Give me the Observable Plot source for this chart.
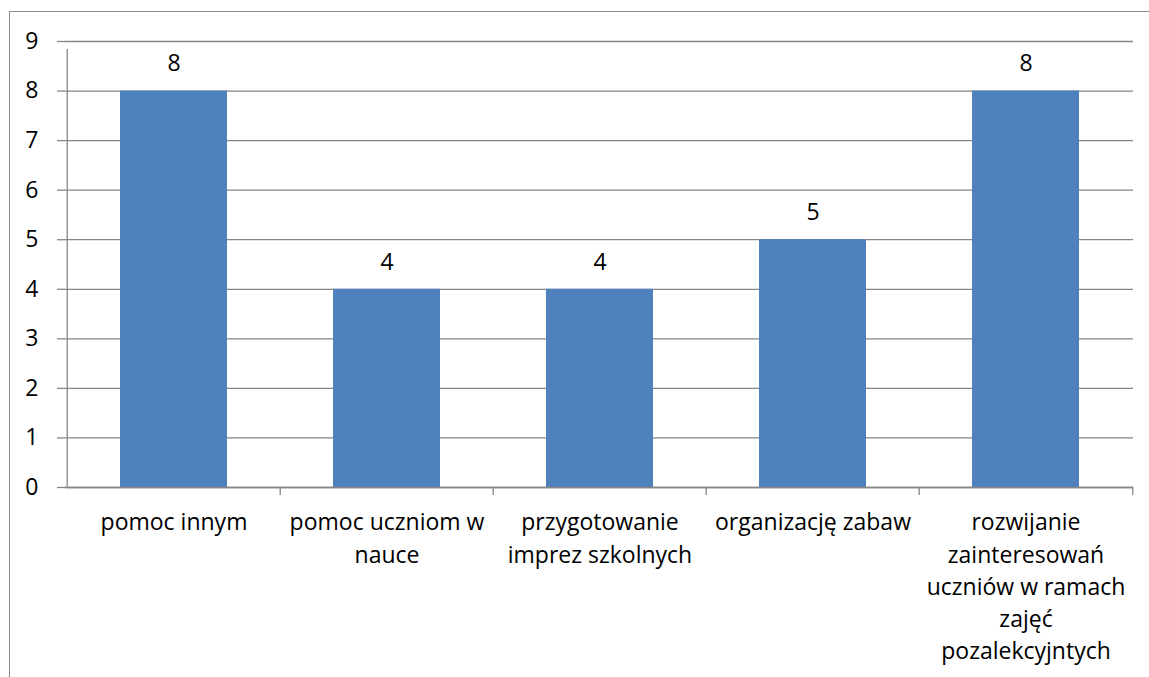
<!DOCTYPE html>
<html>
<head>
<meta charset="utf-8">
<script src="https://cdn.jsdelivr.net/npm/d3@7"></script>
<script src="https://cdn.jsdelivr.net/npm/@observablehq/plot@0.6"></script>
<style>
  html, body { margin: 0; padding: 0; background: #fff; overflow: hidden; }
  #wrap { position: relative; width: 1149px; height: 677px; }
  #frame { position: absolute; left: 9px; top: 11px; width: 1200px; height: 700px; border: 1px solid #8c8c8c; box-sizing: border-box; pointer-events: none; }
  #chart { position: absolute; left: 0; top: 0; }
</style>
</head>
<body>
<div id="wrap"><div id="frame"></div><div id="chart"></div></div>
<script>
const categories = [
  "pomoc innym",
  "pomoc uczniom w\nnauce",
  "przygotowanie\nimprez szkolnych",
  "organizację zabaw",
  "rozwijanie\nzainteresowań\nuczniów w ramach\nzajęć\npozalekcyjntych"
];
const values = [8, 4, 4, 5, 8];
const yTicks = [0, 1, 2, 3, 4, 5, 6, 7, 8, 9];

const data = categories.map((c, i) => ({category: c, value: values[i]}));
const W = 1149, H = 677, mL = 65, mR = 16;
const half = (W - mL - mR) / categories.length / 2;
const grey = "#868686";

const plot = Plot.plot({
  width: W,
  height: H,
  marginLeft: mL,
  marginRight: mR,
  marginTop: 41,
  marginBottom: 190,
  style: {fontFamily: "'Open Sans', sans-serif", fontSize: "23px", color: "#000", background: "transparent"},
  x: {domain: categories, paddingInner: 0.5, paddingOuter: 0.25, axis: null},
  y: {domain: [0, 9], ticks: yTicks, axis: null},
  marks: [
    Plot.gridY(yTicks, {stroke: grey, strokeOpacity: 1, strokeWidth: 1.3}),
    Plot.axisY(yTicks, {tickSize: 8, tickPadding: 19, stroke: grey, strokeWidth: 1.3, fill: "#000", fontSize: 23, label: null, tickFormat: d => String(d)}),
    Plot.barY(data, {x: "category", y: "value", fill: "#4F81BD"}),
    Plot.ruleX(categories, {x: d => d, dx: -half, y1: 0, y2: 9, insetBottom: -8, stroke: grey, strokeWidth: 1.3, filter: (d, i) => i === 0}),
    Plot.ruleX(categories, {x: d => d, dx: -half, y1: 0, y2: 0, insetBottom: -8, stroke: grey, strokeWidth: 1.3, filter: (d, i) => i > 0}),
    Plot.ruleX(categories.slice(-1), {x: d => d, dx: half, y1: 0, y2: 0, insetBottom: -8, stroke: grey, strokeWidth: 1.3}),
    Plot.ruleY([0], {stroke: grey, strokeWidth: 1.3}),
    Plot.text(data, {x: "category", y: "value", text: d => String(d.value), dy: -27, fill: "#000", fontSize: 23}),
    Plot.text(categories, {x: d => d, frameAnchor: "bottom", lineAnchor: "top", dy: 20, lineHeight: 1.4, text: d => d, fill: "#000", fontSize: 23})
  ]
});
document.getElementById("chart").appendChild(plot);
</script>
</body>
</html>
